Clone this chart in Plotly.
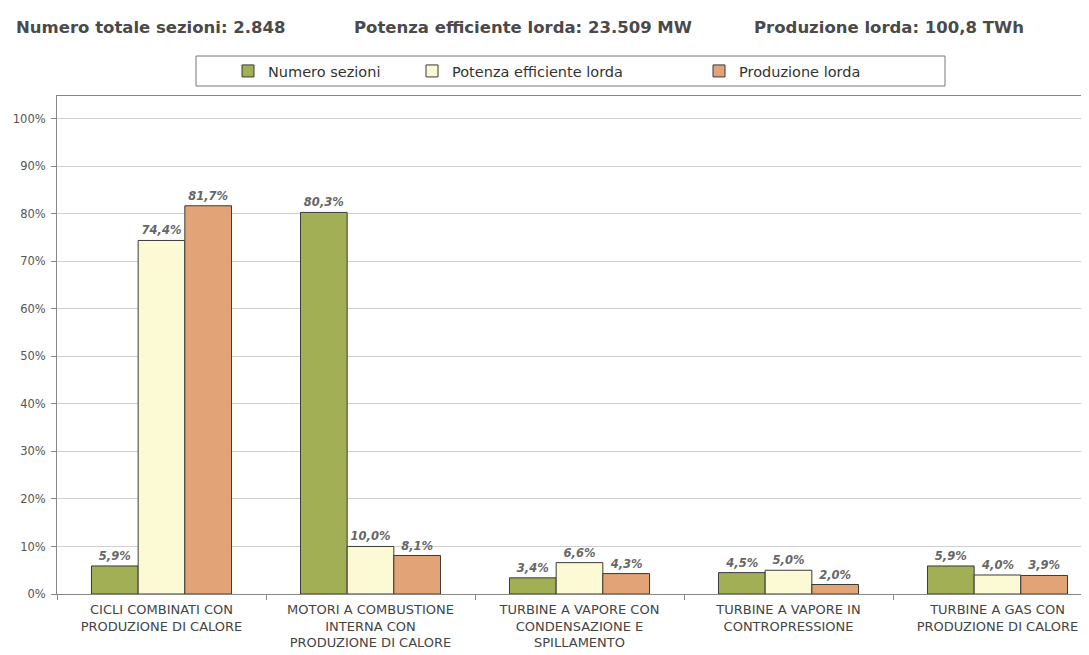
import plotly.graph_objects as go

categories = [
    "CICLI COMBINATI CON<br>PRODUZIONE DI CALORE",
    "MOTORI A COMBUSTIONE<br>INTERNA CON<br>PRODUZIONE DI CALORE",
    "TURBINE A VAPORE CON<br>CONDENSAZIONE E<br>SPILLAMENTO",
    "TURBINE A VAPORE IN<br>CONTROPRESSIONE",
    "TURBINE A GAS CON<br>PRODUZIONE DI CALORE",
]
numero_sezioni = [5.9, 80.3, 3.4, 4.5, 5.9]
potenza_efficiente = [74.4, 10.0, 6.6, 5.0, 4.0]
produzione_lorda = [81.7, 8.1, 4.3, 2.0, 3.9]

series_names = ["Numero sezioni", "Potenza efficiente lorda", "Produzione lorda"]
series_values = [numero_sezioni, potenza_efficiente, produzione_lorda]
series_colors = ["#a2af55", "#fcfad4", "#e2a476"]
legend_ids = ["legend", "legend2", "legend3"]

header_texts = [
    "Numero totale sezioni: 2.848",
    "Potenza efficiente lorda: 23.509 MW",
    "Produzione lorda: 100,8 TWh",
]

OFF = 8  # page body margin
W, H = 1089 - OFF, 655 - OFF
L, T, B = 57 - OFF, 96 - OFF, 61
PW = W - L
PH = H - T - B

def px_x(p):
    return (p - OFF - L) / PW

def px_y(p):
    return 1 + (T - (p - OFF)) / PH

fig = go.Figure()
for name, vals, col, lg in zip(series_names, series_values, series_colors, legend_ids):
    fig.add_trace(go.Bar(
        x=categories, y=vals, name=name, legend=lg, showlegend=True,
        marker=dict(color=col, line=dict(color="#3a3a3a", width=1)),
        texttemplate="%{y:.1f}%", textposition="outside", cliponaxis=False,
        textfont=dict(family="DejaVu Sans", size=11.5, color="#666666",
                      style="italic", weight="bold"),
    ))

legend_x_px = [228, 412, 699]
legend_common = dict(
    orientation="h", yanchor="middle", xanchor="left",
    font=dict(family="DejaVu Sans", size=14.5, color="#333333"),
    bgcolor="rgba(0,0,0,0)", borderwidth=0, itemwidth=30,
)
legends = {}
for lg, xp in zip(legend_ids, legend_x_px):
    legends[lg] = dict(x=px_x(xp), y=px_y(71), **legend_common)

annotations = []
for txt, xp in zip(header_texts, [14, 352, 752]):
    annotations.append(dict(
        text="<b>" + txt + "</b>", xref="paper", yref="paper",
        x=px_x(xp), y=px_y(27), xanchor="left", yanchor="middle", showarrow=False,
        font=dict(family="DejaVu Sans", size=16.5, color="#4a4a4a"),
    ))

fig.update_layout(
    width=W, height=H,
    margin=dict(l=L, r=0, t=T, b=B),
    paper_bgcolor="white", plot_bgcolor="white",
    font=dict(family="DejaVu Sans", color="#555555"),
    showlegend=True,
    barmode="group", bargap=0.33, bargroupgap=0,
    separators=",.",
    annotations=annotations,
    shapes=[dict(type="rect", xref="paper", yref="paper",
                 x0=px_x(196), x1=px_x(945), y0=px_y(86), y1=px_y(56),
                 line=dict(color="#777777", width=1), fillcolor="rgba(0,0,0,0)")],
    **legends,
)
fig.update_xaxes(
    range=[-0.5, -0.5 + PW / 209.0],
    tickson="boundaries", ticks="outside", ticklen=5, tickcolor="#888888",
    showline=True, linecolor="#888888", linewidth=1, mirror=True,
    tickfont=dict(family="DejaVu Sans", size=13, color="#444444"),
    ticklabelstandoff=3,
    showgrid=False,
)
fig.update_yaxes(
    range=[0, 104.8], dtick=10, ticksuffix="%",
    ticks="outside", ticklen=5, tickcolor="#888888",
    showline=True, linecolor="#888888", linewidth=1, mirror=True,
    showgrid=True, gridcolor="#d0d0d0", gridwidth=1,
    tickfont=dict(family="DejaVu Sans", size=11.5, color="#555555"),
    ticklabelstandoff=3,
    zeroline=False,
)

fig.write_html("out.html")
